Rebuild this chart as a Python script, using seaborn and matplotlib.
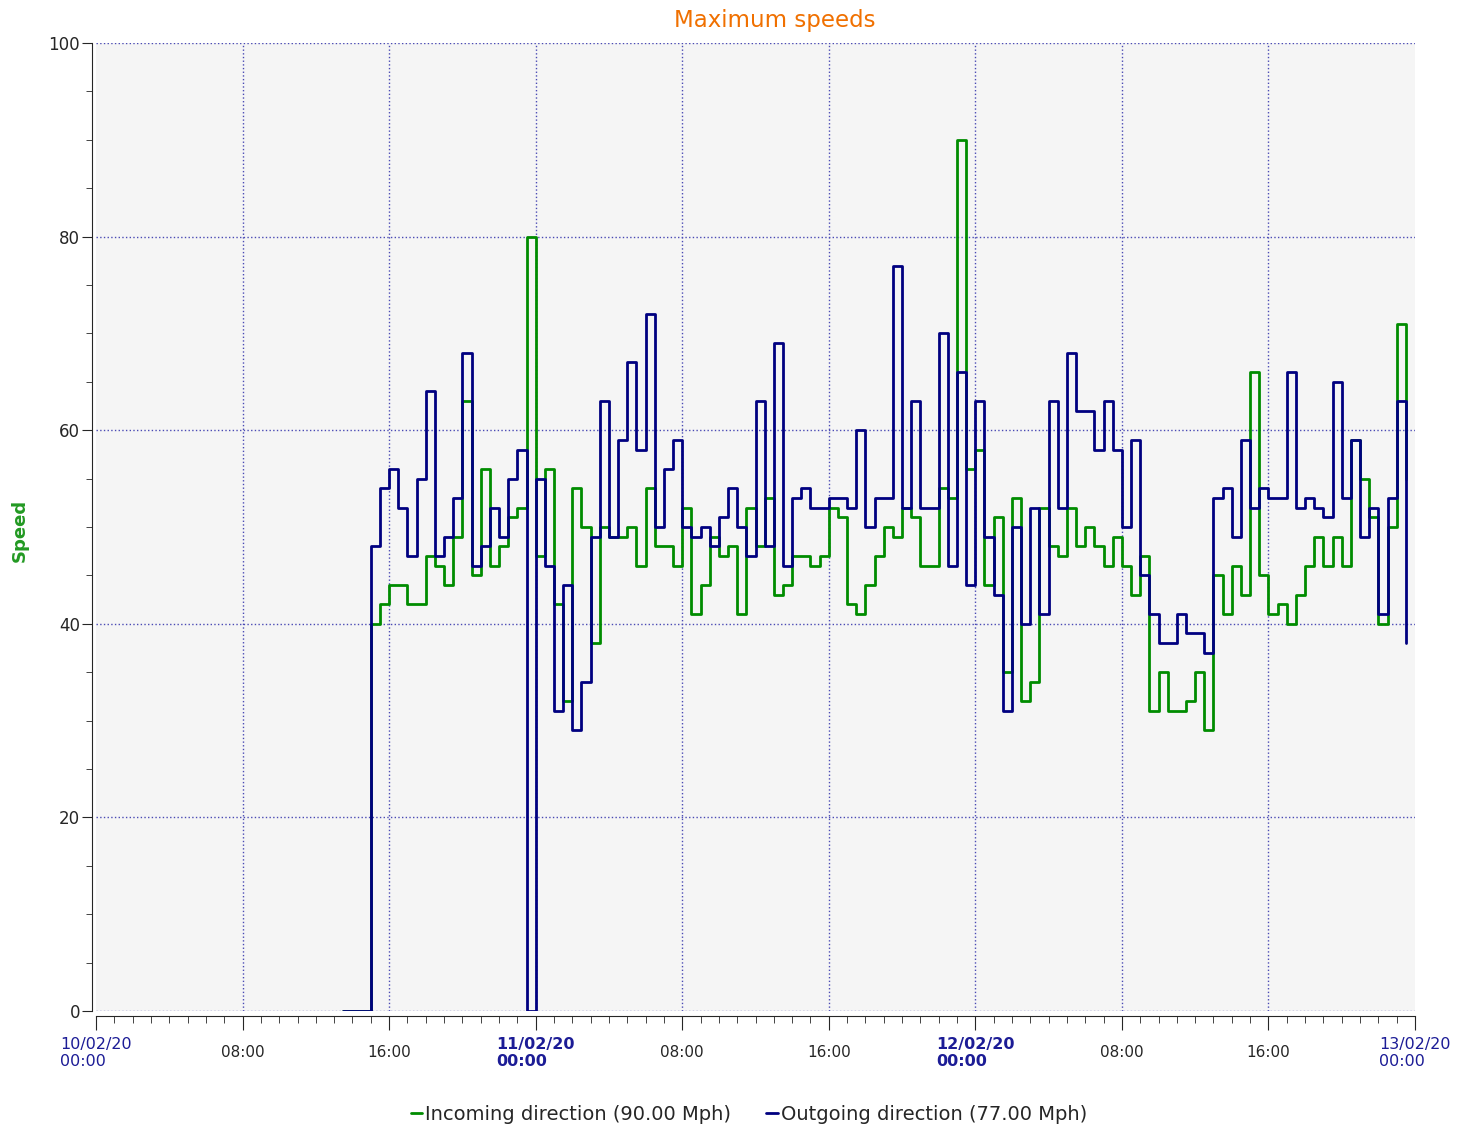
# Maximum speeds - incoming / outgoing step chart

import numpy as np
import pandas as pd
import matplotlib
matplotlib.use("Agg")
import matplotlib.pyplot as plt
from matplotlib.lines import Line2D
from matplotlib.ticker import MultipleLocator
import matplotlib.dates as mdates
import seaborn as sns

# half-hourly maximum speeds, starting 10/02/20 13:30
incoming = [
    0, 0, 0,
    40, 42, 44, 44,   42, 42, 47, 46,   44, 49, 63, 45,
    56, 46, 48, 51,   52, 80, 47, 56,   42, 32, 54, 50,
    38, 50, 49, 49,   50, 46, 54, 48,   48, 46, 52, 41,
    44, 49, 47, 48,   41, 52, 48, 53,   43, 44, 47, 47,
    46, 47, 52, 51,   42, 41, 44, 47,   50, 49, 52, 51,
    46, 46, 54, 53,   90, 56, 58, 44,   51, 35, 53, 32,
    34, 52, 48, 47,   52, 48, 50, 48,   46, 49, 46, 43,
    47, 31, 35, 31,   31, 32, 35, 29,   45, 41, 46, 43,
    66, 45, 41, 42,   40, 43, 46, 49,   46, 49, 46, 59,
    55, 51, 40, 50,   71, 55,
]
outgoing = [
    0, 0, 0,
    48, 54, 56, 52,   47, 55, 64, 47,   49, 53, 68, 46,
    48, 52, 49, 55,   58, 0, 55, 46,    31, 44, 29, 34,
    49, 63, 49, 59,   67, 58, 72, 50,   56, 59, 50, 49,
    50, 48, 51, 54,   50, 47, 63, 48,   69, 46, 53, 54,
    52, 52, 53, 53,   52, 60, 50, 53,   53, 77, 52, 63,
    52, 52, 70, 46,   66, 44, 63, 49,   43, 31, 50, 40,
    52, 41, 63, 52,   68, 62, 62, 58,   63, 58, 50, 59,
    45, 41, 38, 38,   41, 39, 39, 37,   53, 54, 49, 59,
    52, 54, 53, 53,   66, 52, 53, 52,   51, 65, 53, 59,
    49, 52, 41, 53,   63, 38,
]
start = "2020-02-10 13:30"

tick_labels = ["10/02/20\n00:00", "08:00", "16:00",
               "11/02/20\n00:00", "08:00", "16:00",
               "12/02/20\n00:00", "08:00", "16:00",
               "13/02/20\n00:00"]

series_names = ["Incoming direction", "Outgoing direction"]
green = "#008c00"
navy = "#000080"
grid_color = "#4a4ab4"

df = pd.concat([
    pd.DataFrame({"time": pd.date_range(start, periods=len(incoming), freq="30min"),
                  "speed": incoming, "series": series_names[0]}),
    pd.DataFrame({"time": pd.date_range(start, periods=len(outgoing), freq="30min"),
                  "speed": outgoing, "series": series_names[1]}),
], ignore_index=True)

sns.set_style("ticks")
plt.rcParams["font.family"] = ["DejaVu Sans"]

fig = plt.figure(figsize=(14.71, 11.31), dpi=100)
ax = fig.add_axes([96 / 1471, 120 / 1131, 1319 / 1471, 968 / 1131])
ax.set_facecolor("#f5f5f5")

xticks = pd.date_range("2020-02-10", "2020-02-13", freq="8h")
# vertical grid only inside the plot (none on the borders)
for t in xticks[1:-1]:
    ax.axvline(t, linestyle=":", color=grid_color, linewidth=1.0, zorder=0.5)
ax.grid(True, axis="y", which="major", linestyle=":", color=grid_color, linewidth=1.0)

sns.lineplot(data=df, x="time", y="speed", hue="series", hue_order=series_names,
             palette={series_names[0]: green, series_names[1]: navy},
             estimator=None, drawstyle="steps-post", linewidth=2.0,
             legend=False, ax=ax)

ax.set_xlim(pd.Timestamp("2020-02-10 00:00"), pd.Timestamp("2020-02-13 00:00"))
ax.set_ylim(0, 100)
ax.set_xlabel("")
ax.set_ylabel("")

ax.set_xticks(xticks)
ax.set_xticklabels(tick_labels)
ax.xaxis.set_minor_locator(mdates.HourLocator())
ax.yaxis.set_major_locator(MultipleLocator(20))
ax.yaxis.set_minor_locator(MultipleLocator(5))

for s in ["top", "right"]:
    ax.spines[s].set_visible(False)
ax.spines["left"].set_position(("outward", 2.9))
ax.spines["bottom"].set_position(("outward", 3.6))

ax.tick_params(axis="x", which="major", length=10, pad=16.5, labelsize=11)
ax.tick_params(axis="x", which="minor", length=5)
ax.tick_params(axis="y", which="major", length=7, pad=1.5, labelsize=12)
ax.tick_params(axis="y", which="minor", length=4)

for lbl in ax.get_xticklabels():
    lbl.set_va("center")
    txt = lbl.get_text()
    if "\n" in txt:
        lbl.set_color("#1c1c96")
        lbl.set_multialignment("left")
        lbl.set_fontsize(11.5)
        if txt.startswith(("11/", "12/")):
            lbl.set_fontweight("bold")

fig.text(775 / 1471, 1 - 21 / 1131, "Maximum speeds", ha="center", va="center",
         color="#f07000", fontsize=16.5)
fig.text(20 / 1471, 1 - 530 / 1131, "Speed", rotation=90, ha="center", va="center",
         color="#229922", fontsize=13, fontweight="bold")

handles = [Line2D([], [], color=green, lw=2), Line2D([], [], color=navy, lw=2)]
labels = [f"{series_names[0]} ({max(incoming):.2f} Mph)",
          f"{series_names[1]} ({max(outgoing):.2f} Mph)"]
fig.legend(handles, labels, loc="center", bbox_to_anchor=(749 / 1471, 1 - 1114 / 1131),
           ncol=2, frameon=False, fontsize=14, handlelength=0.6,
           handletextpad=0.15, columnspacing=1.8)

fig.savefig("out.png", dpi=100)
